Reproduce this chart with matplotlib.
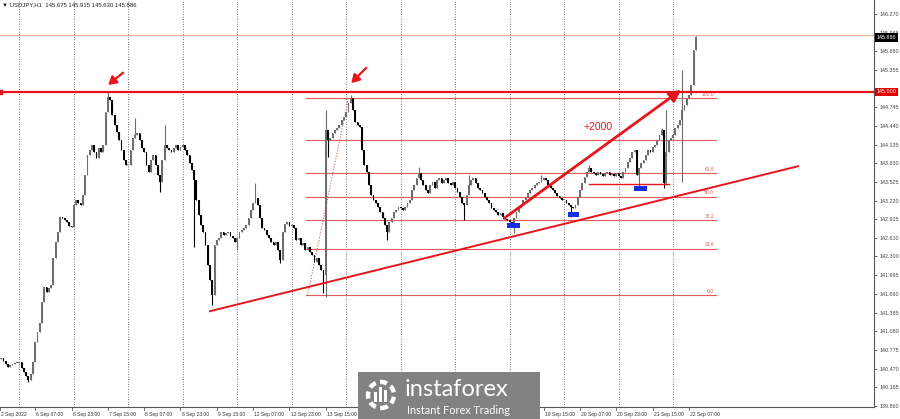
import numpy as np
import matplotlib
matplotlib.use('Agg')
import matplotlib.pyplot as plt
import matplotlib.transforms as mtrans
from matplotlib.patches import Rectangle, Circle

plt.rcParams['font.family'] = ['Liberation Sans', 'DejaVu Sans']

# USDJPY H1, hourly closes (5 Sep .. 22 Sep 2022)
close = [
    140.64, 140.60, 140.55, 140.50, 140.53, 140.55, 140.56, 140.57,
    140.58, 140.48, 140.42, 140.35, 140.29, 140.38, 140.58, 140.91, 141.07, 141.22, 141.56, 141.81,
    141.72, 141.79, 141.84, 142.28, 142.54, 142.71, 142.95, 142.93, 142.90, 142.87, 142.80, 142.79,
    143.15, 143.23, 143.18, 143.15, 143.31, 143.64, 143.96, 144.05, 144.13, 144.01, 143.92, 144.08,
    144.01, 144.13, 144.67, 144.91, 144.86, 144.62, 144.46, 144.34, 144.21, 144.05, 143.88, 143.80,
    143.80, 144.05, 144.24, 144.29, 144.32, 144.21, 144.08, 144.01, 143.80, 143.69, 143.88, 143.96,
    143.80, 143.64, 143.52, 143.88, 144.13, 144.08, 144.05, 144.01, 144.08, 144.13, 144.05, 144.10,
    144.13, 144.05, 143.96, 143.83, 143.72, 143.56, 143.23, 142.98, 142.82, 142.70, 142.49, 142.17,
    141.92, 141.68, 142.49, 142.58, 142.61, 142.70, 142.66, 142.69, 142.70, 142.64, 142.61, 142.54,
    142.61, 142.70, 142.74, 142.77, 142.82, 142.93, 143.07, 143.18, 143.26, 143.15, 142.93, 142.77,
    142.74, 142.66, 142.61, 142.54, 142.49, 142.54, 142.41, 142.25, 142.70, 142.84, 142.87, 142.80,
    142.82, 142.77, 142.58, 142.61, 142.49, 142.53, 142.41, 142.46, 142.38, 142.33, 142.21, 142.28,
    142.17, 142.08, 142.00, 144.37, 144.21, 144.24, 144.32, 144.37, 144.40, 144.46, 144.54, 144.59,
    144.67, 144.81, 144.90, 144.70, 144.50, 144.46, 144.42, 144.05, 143.80, 143.69, 143.47, 143.31,
    143.23, 143.18, 143.11, 143.03, 142.93, 142.82, 142.70, 142.87, 142.93, 143.03, 143.07, 143.11,
    143.10, 143.07, 143.11, 143.18, 143.23, 143.39, 143.47, 143.59, 143.67, 143.56, 143.47, 143.39,
    143.34, 143.47, 143.52, 143.43, 143.56, 143.59, 143.51, 143.56, 143.59, 143.51, 143.47, 143.52,
    143.43, 143.36, 143.28, 143.18, 143.15, 143.31, 143.47, 143.56, 143.59, 143.51, 143.43, 143.39,
    143.34, 143.28, 143.23, 143.18, 143.10, 143.07, 143.03, 142.98, 143.02, 142.95, 142.92, 142.90,
    142.87, 142.82, 142.93, 143.03, 143.10, 143.15, 143.23, 143.28, 143.34, 143.39, 143.43, 143.47,
    143.51, 143.52, 143.56, 143.59, 143.56, 143.47, 143.43, 143.39, 143.34, 143.29, 143.26, 143.23,
    143.23, 143.18, 143.15, 143.11, 143.10, 143.15, 143.28, 143.39, 143.51, 143.61, 143.69, 143.75,
    143.69, 143.67, 143.64, 143.69, 143.65, 143.62, 143.67, 143.69, 143.64, 143.65, 143.62, 143.67,
    143.62, 143.59, 143.69, 143.75, 143.85, 143.92, 144.01, 144.05, 143.64, 143.75, 143.83, 143.88,
    143.96, 144.05, 144.01, 144.10, 144.13, 144.21, 144.29, 144.37, 143.51, 144.01, 144.21, 144.24,
    144.29, 144.40, 144.46, 144.54, 144.70, 144.78, 144.90, 144.95, 145.11, 145.675, 145.886,
]
first_open = 140.62

# wicks that stick out of the bodies
wick_high = {47: 144.99, 59: 144.57, 72: 144.46, 112: 143.51, 143: 144.70, 154: 144.95,
             184: 143.77, 206: 143.64, 238: 143.64, 259: 143.80, 291: 144.40, 293: 144.70,
             300: 145.35, 306: 145.915}
wick_low = {12: 140.25, 70: 143.36, 85: 142.46, 93: 141.51, 104: 142.41, 123: 142.20,
            142: 141.70, 143: 141.64, 144: 143.93, 170: 142.58, 204: 142.90, 226: 142.69,
            251: 142.95, 281: 143.39, 292: 143.43, 293: 143.48, 300: 143.52}

day_lines = [8, 32, 56, 80, 104, 128, 152, 176, 200, 224, 248, 272, 296]
# labels under the watermark (14 Sep 07:00 .. 16 Sep 23:00) are not visible in the screenshot
xlab_pos = [-0.5, 15, 31, 47, 63, 79, 95, 111, 127, 143, 239, 255, 271, 287, 303]
xlab_txt = ['2 Sep 2022', '6 Sep 07:00', '6 Sep 23:00', '7 Sep 15:00', '8 Sep 07:00',
            '8 Sep 23:00', '9 Sep 15:00', '12 Sep 07:00', '12 Sep 23:00', '13 Sep 15:00',
            '19 Sep 15:00', '20 Sep 07:00', '20 Sep 23:00', '21 Sep 15:00', '22 Sep 07:00']
ytick_val = [146.270, 145.965, 145.660, 145.355, 145.050, 144.745, 144.440, 144.135,
             143.830, 143.525, 143.220, 142.915, 142.610, 142.305, 141.995, 141.690,
             141.385, 141.080, 140.775, 140.470, 140.165, 139.860]
# 145.050 sits under the red 145.000 price box
ytick_txt = ['146.270', '145.965', '145.660', '145.355', '', '144.745', '144.440',
             '144.135', '143.830', '143.525', '143.220', '142.915', '142.610', '142.300',
             '141.995', '141.690', '141.385', '141.080', '140.775', '140.470', '140.165',
             '139.860']

# drawings on the chart
level_line = 145.000
ask_line = 145.93
last_price = 145.886
fib_low, fib_high = 141.67, 144.90
fib_levels = [0.0, 23.6, 38.2, 50.0, 61.8, 78.6, 100.0]
fib_labeled = ['0.0', '23.6', '38.2', '50.0', '61.8', '', '100.0']
fib_x = [134.5, 315]
fib_diag_x = [135, 153]
trend_x, trend_y = [92, 351], [141.41, 143.78]
support_x, support_y = [259, 294], 143.49
boxes = [(223, 228.7, 142.77, 142.85), (249.8, 254.6, 142.95, 143.03), (278.9, 284.6, 143.38, 143.46)]
big_arrow = [(221.6, 142.93), (299.6, 145.03)]
small_arrows = [[(53.7, 145.31), (47.1, 145.11)], [(160.8, 145.39), (154.2, 145.14)]]
gain_text = ('+2000', 263, 144.42)

red = '#e8141b'
fibred = '#e45a5a'

fig = plt.figure(figsize=(9, 4.19), dpi=100)
ax = fig.add_axes([0, 12 / 419, 874 / 900, 407 / 419])
ax.set_xlim(-0.5, 384.5)
ax.set_ylim(139.843, 146.499)

c = np.array(close)
o = np.r_[first_open, c[:-1]]
x = np.arange(len(c))
hi = np.maximum(o, c)
lo = np.minimum(o, c)
for k, v in wick_high.items():
    hi[k] = max(hi[k], v)
for k, v in wick_low.items():
    lo[k] = min(lo[k], v)
col = np.where(c >= o, '#6e6e6e', '#000000')

# period separators
for d in day_lines:
    ax.axvline(d, color='#4a4a4a', lw=0.6, ls=(0, (1, 2)), zorder=1)

ax.vlines(x, lo, hi, colors=col, lw=0.8, zorder=3)
ax.bar(x, np.maximum(np.abs(c - o), 0.014), bottom=np.minimum(o, c), width=0.78,
       color=col, lw=0, zorder=3)

# horizontal levels
ax.axhline(ask_line, color='#f2b49c', lw=0.9, zorder=2)
ax.axhline(level_line, color=red, lw=1.6, zorder=4)
ax.plot([-0.5], [level_line], marker='s', ms=2.5, color=red, clip_on=False, zorder=5)

# fibonacci
for lv, lab in zip(fib_levels, fib_labeled):
    p = fib_low + (fib_high - fib_low) * lv / 100
    ax.plot(fib_x, [p, p], color=fibred, lw=0.8, zorder=2)
    if lab:
        ax.text(fib_x[1] - 1, p + 0.02, lab, color=fibred, fontsize=3.6, ha='right', va='bottom')
ax.plot(fib_diag_x, [fib_low, fib_high], color=fibred, lw=0.8, ls=(0, (1, 1.5)), zorder=2)

ax.plot(trend_x, trend_y, color=red, lw=1.4, zorder=4)
ax.plot(support_x, [support_y, support_y], color=red, lw=1.0, zorder=4)

for x0, x1, y0, y1 in boxes:
    ax.add_patch(Rectangle((x0, y0), x1 - x0, y1 - y0, color='#1430e0', lw=0, zorder=5))

ax.annotate('', xy=big_arrow[1], xytext=big_arrow[0],
            arrowprops=dict(arrowstyle='-|>,head_length=0.7,head_width=0.35', color=red,
                            lw=2.0, shrinkA=0, shrinkB=0, mutation_scale=10), zorder=6)
for (a, b) in small_arrows:
    ax.annotate('', xy=b, xytext=a,
                arrowprops=dict(arrowstyle='-|>,head_length=0.6,head_width=0.35', color=red,
                                lw=1.6, shrinkA=0, shrinkB=0, mutation_scale=8), zorder=6)
ax.text(gain_text[1], gain_text[2], gain_text[0], color=red, fontsize=7.5, ha='center', va='center')

# axes look
for s in ['top', 'left']:
    ax.spines[s].set_visible(False)
for s in ['right', 'bottom']:
    ax.spines[s].set_color('#555555')
    ax.spines[s].set_linewidth(0.8)
ax.yaxis.tick_right()
ax.set_yticks(ytick_val, ytick_txt)
ax.tick_params(axis='y', labelsize=3.9, length=2.5, width=0.6, colors='#444444', pad=1.5)
ax.set_xticks([])

trans = mtrans.blended_transform_factory(ax.transData, ax.transAxes)
for p, t in zip(xlab_pos, xlab_txt):
    ax.plot([p, p], [0, -0.008], transform=trans, color='#555555', lw=0.6, clip_on=False)
    ax.text(p + 0.5, -0.012, t, transform=trans, fontsize=3.6, color='#333333',
            ha='left', va='top', clip_on=False)

# price boxes on the axis
ytrans = mtrans.blended_transform_factory(ax.transAxes, ax.transData)
ax.text(1.003, level_line, '145.000', transform=ytrans, fontsize=3.9, color='white',
        ha='left', va='center', clip_on=False, zorder=10,
        bbox=dict(boxstyle='square,pad=0.3', fc='#e00000', ec='none'))
ax.text(1.003, last_price, '145.886', transform=ytrans, fontsize=3.9, color='white',
        ha='left', va='center', clip_on=False, zorder=10,
        bbox=dict(boxstyle='square,pad=0.3', fc='#000000', ec='none'))

fig.text(2 / 900, 1 - 5 / 419, '\u25bc USDJPY,H1  145.675 145.915 145.630 145.886',
         fontsize=4.3, color='#222222', va='center', ha='left')

# watermark logo
fig.add_artist(Rectangle((358 / 900, 0), 182 / 900, 47 / 419, transform=fig.transFigure,
                         color='#828282', lw=0, zorder=10))
fig.add_artist(Circle((3.81, 0.24), 0.13, transform=fig.dpi_scale_trans, fill=False,
                      ec='white', lw=3.2, ls=(0, (1.6, 1.0)), zorder=11))
for bx, bh in [(3.74, 0.10), (3.79, 0.15), (3.84, 0.12)]:
    fig.add_artist(Rectangle((bx, 0.17), 0.03, bh, transform=fig.dpi_scale_trans,
                             color='white', lw=0, zorder=11))
fig.text(405 / 900, 1 - 389 / 419, 'instaforex', fontsize=17, color='white',
         va='center', ha='left', zorder=12, family=['Lato', 'DejaVu Sans'])
fig.text(407 / 900, 1 - 410 / 419, 'Instant Forex Trading', fontsize=7.8, color='white',
         va='center', ha='left', zorder=12, family=['Lato', 'DejaVu Sans'])

fig.savefig('out.png', dpi=100)
